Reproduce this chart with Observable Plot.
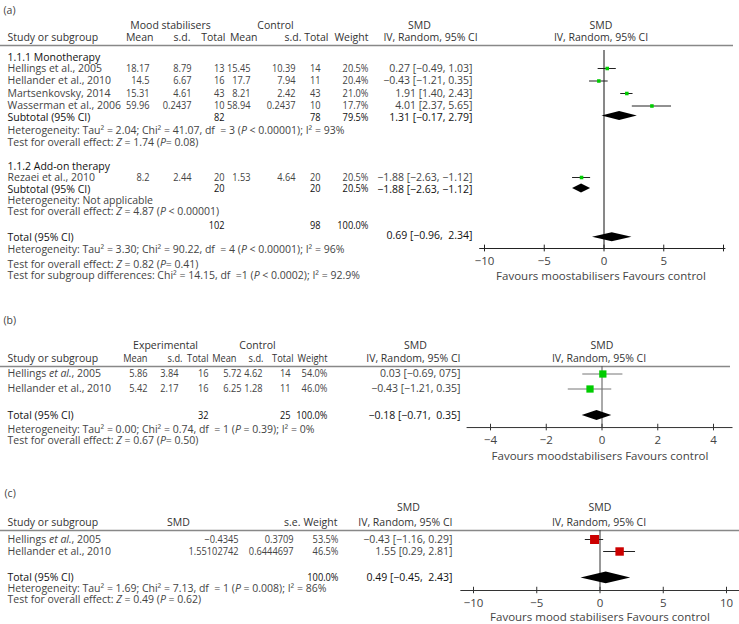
<!DOCTYPE html>
<html><head><meta charset="utf-8">
<script src="https://cdn.jsdelivr.net/npm/d3@7"></script>
<script src="https://cdn.jsdelivr.net/npm/@observablehq/plot@0.6"></script>
<style>
body{margin:0;background:#fff;}
#root{position:relative;width:739px;height:624px;overflow:hidden;}
#root svg{position:absolute;left:0;overflow:visible;}
#root text{white-space:pre;}
</style></head><body><div id="root"></div>
<script>
// ================= DATA =================
// ---- Panel (a) ----
const aStudy   = ["Hellings et al., 2005","Hellander et al., 2010","Martsenkovsky, 2014","Wasserman et al., 2006","Rezaei et al., 2010"];
const aExpMean = [18.17, 14.5, 15.31, 59.96, 8.2];
const aExpSD   = [8.79, 6.67, 4.61, 0.2437, 2.44];
const aExpN    = [13, 16, 43, 10, 20];
const aCtlMean = [15.45, 17.7, 8.21, 58.94, 1.53];
const aCtlSD   = [10.39, 7.94, 2.42, 0.2437, 4.64];
const aCtlN    = [14, 11, 43, 10, 20];
const aWeight  = [20.5, 20.4, 21.0, 17.7, 20.5];
const aEst     = [0.27, -0.43, 1.91, 4.01, -1.88];
const aLo      = [-0.49, -1.21, 1.40, 2.37, -2.63];
const aHi      = [1.03, 0.35, 2.43, 5.65, -1.12];
const aCI      = ["0.27 [−0.49, 1.03]","−0.43 [−1.21, 0.35]","1.91 [1.40, 2.43]","4.01 [2.37, 5.65]","−1.88 [−2.63, −1.12]"];
const aGroups  = ["1.1.1 Monotherapy","1.1.2 Add-on therapy"];
const aSumLabel  = ["Subtotal (95% CI)","Subtotal (95% CI)","Total (95% CI)"];
const aSumExpN   = [82, 20, 102];
const aSumCtlN   = [78, 20, 98];
const aSumWeight = [79.5, 20.5, 100.0];
const aSumEst    = [1.31, -1.88, 0.69];
const aSumLo     = [-0.17, -2.63, -0.96];
const aSumHi     = [2.79, -1.12, 2.34];
const aSumCI     = ["1.31 [−0.17, 2.79]","−1.88 [−2.63, −1.12]","0.69 [−0.96,  2.34]"];
const aNotes = [
  "Heterogeneity: Tau² = 2.04; Chi² = 41.07, df  = 3 (_P_ < 0.00001); I² = 93%",
  "Test for overall effect: _Z_ = 1.74 (_P_= 0.08)",
  "Heterogeneity: Not applicable",
  "Test for overall effect: _Z_ = 4.87 (_P_ < 0.00001)",
  "Heterogeneity: Tau² = 3.30; Chi² = 90.22, df  = 4 (_P_ < 0.00001); I² = 96%",
  "Test for overall effect: _Z_ = 0.82 (_P_= 0.41)",
  "Test for subgroup differences: Chi² = 14.15, df  =1 (_P_ < 0.0002); I² = 92.9%"
];
const aTicks = [-10, -5, 0, 5, 10];
const aTickLabels = ["−10", "−5", "0", "5", ""];
const aFavours = "Favours moostabilisers Favours control";

// ---- Panel (b) ----
const bStudy   = ["Hellings _et al._, 2005","Hellander et al., 2010"];
const bExpMean = [5.86, 5.42];
const bExpSD   = [3.84, 2.17];
const bExpN    = [16, 16];
const bCtlMean = [5.72, 6.25];
const bCtlSD   = [4.62, 1.28];
const bCtlN    = [14, 11];
const bWeight  = [54.0, 46.0];
const bEst     = [0.03, -0.43];
const bLo      = [-0.69, -1.21];
const bHi      = [0.75, 0.35];
const bCI      = ["0.03 [−0.69, 075]","−0.43 [−1.21, 0.35]"];
const bTotal   = {label: "Total (95% CI)", expN: 32, ctlN: 25, weight: 100.0, est: -0.18, lo: -0.71, hi: 0.35, ci: "−0.18 [−0.71,  0.35]"};
const bNotes = [
  "Heterogeneity: Tau² = 0.00; Chi² = 0.74, df  = 1 (_P_ = 0.39); I² = 0%",
  "Test for overall effect: _Z_ = 0.67 (_P_= 0.50)"
];
const bTicks = [-4, -2, 0, 2, 4];
const bFavours = "Favours moodstabilisers Favours control";

// ---- Panel (c) ----
const cStudy  = ["Hellings _et al._, 2005","Hellander et al., 2010"];
const cSMD    = [-0.4345, 1.55102742];
const cSE     = [0.3709, 0.6444697];
const cWeight = [53.5, 46.5];
const cEst    = [-0.43, 1.55];
const cLo     = [-1.16, 0.29];
const cHi     = [0.29, 2.81];
const cCI     = ["−0.43 [−1.16, 0.29]","1.55 [0.29, 2.81]"];
const cTotal  = {label: "Total (95% CI)", weight: 100.0, est: 0.49, lo: -1.5, hi: 2.43, ci: "0.49 [−0.45,  2.43]"};
const cNotes = [
  "Heterogeneity: Tau² = 1.69; Chi² = 7.13, df  = 1 (_P_ = 0.008); I² = 86%",
  "Test for overall effect: _Z_ = 0.49 (_P_ = 0.62)"
];
const cTicks = [-10, -5, 0, 5, 10];
const cFavours = "Favours mood stabilisers Favours control";

// ================= STYLE / LAYOUT =================
const FONT = '"Open Sans", "Noto Sans", sans-serif';
const FS = 10.5;
const COND = 0.88; // horizontal condensing of table number cells
const BODY = "#444", DARK = "#111", HEAD = "#333";
const root = document.getElementById("root");
const num = v => String(v).replace(/-/g, "−");
const pct = v => v.toFixed(1) + "%";

// text cell helper: positioned from the frame's left edge, row via y scale
const cell = (data, y, dx, text, anchor = "end", fill = BODY, extra = {}) =>
  Plot.text(data, {y, frameAnchor: "left", dx, text, textAnchor: anchor, fill, fontSize: FS, ...extra});
const ncell = (data, y, dx, text, fill = BODY) =>
  cell(data, y, dx, text, "end", fill, {className: "cond"});
const note = (s, row, fill = BODY) => cell([s], () => row, 7, d => d, "start", fill);

function diamondPts(list) {
  return list.flatMap((d, i) => [
    {id: i, y: d.row - d.h, x1: d.est, x2: d.est},
    {id: i, y: d.row, x1: d.lo, x2: d.hi},
    {id: i, y: d.row + d.h, x1: d.est, x2: d.est}
  ]);
}

function render({top, height, marginBottom, marginRight, x, r, y0, pitch, marks}) {
  const svg = Plot.plot({
    width: 739, height, marginTop: 0, marginLeft: 0, marginRight, marginBottom,
    style: {fontFamily: FONT, fontSize: FS + "px", background: "transparent", color: "#333"},
    x, r,
    y: {domain: [0, 1], range: [y0, y0 + pitch], axis: null},
    marks
  });
  svg.style.top = top + "px";
  svg.querySelectorAll("text").forEach(t => {
    const s = t.textContent;
    if (s.includes("_")) {
      t.textContent = "";
      s.split("_").forEach((p, i) => {
        const ts = document.createElementNS("http://www.w3.org/2000/svg", "tspan");
        ts.textContent = p;
        if (i % 2) ts.setAttribute("font-style", "italic");
        t.appendChild(ts);
      });
    }
  });
  svg.querySelectorAll(".cond text").forEach(t => {
    t.setAttribute("transform", (t.getAttribute("transform") || "") + ` scale(${COND},1)`);
  });
  root.appendChild(svg);
}

function axisMarks(ticks, fmt, axisRow, x1, x2, stroke, half) {
  return [
    Plot.ruleY([axisRow], {x1, x2, stroke, strokeWidth: 1}),
    Plot.ruleX(ticks, {x: d => d, y1: axisRow - half, y2: axisRow + half, stroke, strokeWidth: 1}),
    Plot.axisX({ticks, tickSize: 0, tickPadding: 8, tickFormat: fmt, fontSize: 11.5, fill: "#444"})
  ];
}

// ================= PANEL (a) =================
{
  const rowPos = [0, 1, 2, 3, 8.72];
  const rows = aStudy.map((name, i) => ({name, row: rowPos[i], em: aExpMean[i], es: aExpSD[i], en: aExpN[i],
    cm: aCtlMean[i], cs: aCtlSD[i], cn: aCtlN[i], w: aWeight[i], est: aEst[i], lo: aLo[i], hi: aHi[i], ci: aCI[i]}));
  const sumRow = [3.9, 9.68, 13.52], sumNRow = [3.9, 9.6, 12.56], sumCIRow = [3.9, 9.68, 13.36], sumDia = [3.8, 9.6, 13.5];
  const sums = aSumLabel.map((label, i) => ({label, row: sumRow[i], nrow: sumNRow[i], cirow: sumCIRow[i], drow: sumDia[i],
    en: aSumExpN[i], cn: aSumCtlN[i], w: aSumWeight[i], est: aSumEst[i], lo: aSumLo[i], hi: aSumHi[i], ci: aSumCI[i]}));
  const noteRows = [4.96, 5.92, 10.56, 11.44, 14.48, 15.68, 16.56];
  const axisRow = 14.4;
  render({
    top: 0, height: 290, marginBottom: 42, marginRight: 6,
    x: {domain: [-10, 10], range: [484, 723]},
    y0: 68, pitch: 12.5,
    marks: [
      cell(["(a)"], () => -4.64, 3, d => d, "start", BODY),
      cell(["Mood stabilisers"], () => -3.44, 170, d => d, "middle", HEAD),
      cell(["Control"], () => -3.44, 275, d => d, "middle", HEAD),
      cell(["SMD"], () => -3.44, 419, d => d, "middle", HEAD),
      Plot.text(["SMD"], {x: 0, y: () => -3.44, dx: -3, text: d => d, fill: HEAD, fontSize: FS}),
      cell(["Study or subgroup"], () => -2.48, 7, d => d, "start", HEAD),
      ...[["Mean",153],["s.d.",190],["Total",225],["Mean",257],["s.d.",301],["Total",328],["Weight",368]].map(([t, x]) => cell([t], () => -2.48, x, d => d, "end", HEAD)),
      cell(["IV, Random, 95% CI"], () => -2.48, 430, d => d, "middle", HEAD),
      Plot.text(["IV, Random, 95% CI"], {x: 0, y: () => -2.48, dx: -3, text: d => d, fill: HEAD, fontSize: FS}),
      Plot.ruleY([-1.84], {stroke: "#888", strokeWidth: 1.5}),
      // group labels
      cell([aGroups[0]], () => -0.88, 7, d => d, "start", DARK),
      cell([aGroups[1]], () => 7.84, 7, d => d, "start", DARK),
      // study rows
      cell(rows, "row", 7, "name", "start"),
      ncell(rows, "row", 149, d => num(d.em)),
      ncell(rows, "row", 191, d => num(d.es)),
      ncell(rows, "row", 224, "en"),
      ncell(rows, "row", 250, d => num(d.cm)),
      ncell(rows, "row", 295, d => num(d.cs)),
      ncell(rows, "row", 320, "cn"),
      ncell(rows, "row", 368, d => pct(d.w)),
      cell(rows, "row", 472, "ci"),
      // summary rows
      cell(sums, "row", 7, "label", "start", DARK),
      ncell(sums, "nrow", 224, "en", DARK),
      ncell(sums, "nrow", 320, "cn", DARK),
      ncell(sums, "nrow", 368, d => pct(d.w), DARK),
      cell(sums, "cirow", 472, "ci", "end", DARK),
      // notes
      ...aNotes.map((s, i) => note(s, noteRows[i])),
      // forest
      Plot.ruleX([0], {y1: -1.44, y2: axisRow, stroke: "#111"}),
      Plot.ruleY(rows, {y: "row", x1: "lo", x2: "hi", stroke: "#222"}),
      Plot.dot(rows, {x: "est", y: "row", symbol: "square", r: 2, fill: "#00cc00", stroke: null}),
      Plot.areaX(diamondPts(sums.map(d => ({...d, row: d.drow, h: 0.36}))), {y: "y", x1: "x1", x2: "x2", z: "id", fill: "#000"}),
      ...axisMarks(aTicks, (d, i) => aTickLabels[i], axisRow, -10.4, 10.2, "#222", 0.27),
      Plot.text([aFavours], {x: 0, y: () => 16.64, dx: -3, text: d => d, fill: BODY, fontSize: 11.5})
    ]
  });
}

// ================= PANEL (b) =================
{
  const rows = bStudy.map((name, i) => ({name, row: i, em: bExpMean[i], es: bExpSD[i], en: bExpN[i],
    cm: bCtlMean[i], cs: bCtlSD[i], cn: bCtlN[i], w: bWeight[i], est: bEst[i], lo: bLo[i], hi: bHi[i], ci: bCI[i]}));
  const tot = [{...bTotal, row: 2.77, h: 0.33}];
  const axisRow = 3.57;
  render({
    top: 300, height: 165, marginBottom: 38, marginRight: 9,
    x: {domain: [-4, 4], range: [490, 713]},
    y0: 73.5, pitch: 15,
    marks: [
      cell(["(b)"], () => -3.57, 3, d => d, "start", BODY),
      cell(["Experimental"], () => -1.9, 165, d => d, "middle", HEAD),
      cell(["Control"], () => -1.9, 257, d => d, "middle", HEAD),
      cell(["SMD"], () => -1.9, 415, d => d, "middle", HEAD),
      Plot.text(["SMD"], {x: 0, y: () => -1.9, text: d => d, fill: HEAD, fontSize: FS}),
      cell(["Study or subgroup"], () => -1.03, 7, d => d, "start", HEAD),
      ...[["Mean",147],["s.d.",182],["Total",208],["Mean",236],["s.d.",263],["Total",293],["Weight",327]].map(([t, x]) => cell([t], () => -1.03, x, d => d, "end", HEAD, {className: "cond"})),
      cell(["IV, Random, 95% CI"], () => -1.03, 460, d => d, "end", HEAD),
      Plot.text(["IV, Random, 95% CI"], {x: 0, y: () => -1.03, dx: -3, text: d => d, fill: HEAD, fontSize: FS}),
      Plot.ruleY([-0.5], {stroke: "#888", strokeWidth: 1.5}),
      cell(rows, "row", 7, "name", "start"),
      ncell(rows, "row", 147, d => num(d.em)),
      ncell(rows, "row", 178, d => num(d.es)),
      ncell(rows, "row", 208, "en"),
      ncell(rows, "row", 241, d => num(d.cm)),
      ncell(rows, "row", 262, d => num(d.cs)),
      ncell(rows, "row", 290, "cn"),
      ncell(rows, "row", 327, d => pct(d.w)),
      cell(rows, "row", 460, "ci"),
      cell(tot, "row", 7, "label", "start", DARK),
      ncell(tot, "row", 208, "expN", DARK),
      ncell(tot, "row", 290, "ctlN", DARK),
      ncell(tot, "row", 327, d => pct(d.weight), DARK),
      cell(tot, "row", 460, "ci", "end", DARK),
      note(bNotes[0], 3.7),
      note(bNotes[1], 4.43),
      Plot.ruleX([0], {y1: -0.5, y2: axisRow, stroke: "#555"}),
      Plot.ruleY(rows, {y: "row", x1: "lo", x2: "hi", stroke: "#777"}),
      Plot.dot(rows, {x: "est", y: "row", symbol: "square", r: 4.1, fill: "#00cc00", stroke: null}),
      Plot.areaX(diamondPts(tot), {y: "y", x1: "x1", x2: "x2", z: "id", fill: "#000"}),
      ...axisMarks(bTicks, d => d3.format("d")(d), axisRow, -4.84, 4.7, "#333", 0.22),
      Plot.text([bFavours], {x: 0, y: () => 5.5, dx: -2, text: d => d, fill: BODY, fontSize: 11.5})
    ]
  });
}

// ================= PANEL (c) =================
{
  const rows = cStudy.map((name, i) => ({name, row: i, smd: cSMD[i], se: cSE[i], w: cWeight[i],
    est: cEst[i], lo: cLo[i], hi: cHi[i], ci: cCI[i]}));
  const tot = [{...cTotal, row: 3.2, h: 0.49}];
  const axisRow = 4.25;
  render({
    top: 470, height: 154, marginBottom: 34, marginRight: 0,
    x: {domain: [-10, 10], range: [473, 726]},
    r: {type: "sqrt", domain: [0, 53.5], range: [0, 5.1]},
    y0: 69, pitch: 12,
    marks: [
      cell(["(c)"], () => -3.83, 4, d => d, "start", BODY),
      cell(["SMD"], () => -2.67, 408, d => d, "middle", HEAD),
      Plot.text(["SMD"], {x: 0, y: () => -2.67, text: d => d, fill: HEAD, fontSize: FS}),
      cell(["Study or subgroup"], () => -1.42, 7, d => d, "start", HEAD),
      cell(["SMD"], () => -1.42, 178, d => d, "middle", HEAD),
      ...[["s.e.",300],["Weight",337],["IV, Random, 95% CI",452]].map(([t, x]) => cell([t], () => -1.42, x, d => d, "end", HEAD)),
      Plot.text(["IV, Random, 95% CI"], {x: 0, y: () => -1.42, dx: -1, text: d => d, fill: HEAD, fontSize: FS}),
      Plot.ruleY([-0.75], {stroke: "#888", strokeWidth: 1.5}),
      cell(rows, "row", 7, "name", "start"),
      ncell(rows, "row", 238, d => num(d.smd)),
      ncell(rows, "row", 293, d => num(d.se)),
      ncell(rows, "row", 338, d => pct(d.w)),
      cell(rows, "row", 452, "ci"),
      cell(tot, "row", 7, "label", "start", DARK),
      ncell(tot, "row", 338, d => pct(d.weight), DARK),
      cell(tot, "row", 452, "ci", "end", DARK),
      note(cNotes[0], 4.08),
      note(cNotes[1], 5.0),
      Plot.ruleX([0], {y1: -0.75, y2: axisRow, stroke: "#333"}),
      Plot.ruleY(rows, {y: "row", x1: "lo", x2: "hi", stroke: "#222"}),
      Plot.dot(rows, {x: "est", y: "row", symbol: "square", r: "w", fill: "#cc0000", stroke: null}),
      Plot.areaX(diamondPts(tot), {y: "y", x1: "x1", x2: "x2", z: "id", fill: "#000"}),
      ...axisMarks(cTicks, d => d3.format("d")(d), axisRow, -11.0, 11.1, "#333", 0.27),
      Plot.text([cFavours], {x: 0, y: () => 6.5, text: d => d, fill: BODY, fontSize: 11.5})
    ]
  });
}
</script></body></html>
